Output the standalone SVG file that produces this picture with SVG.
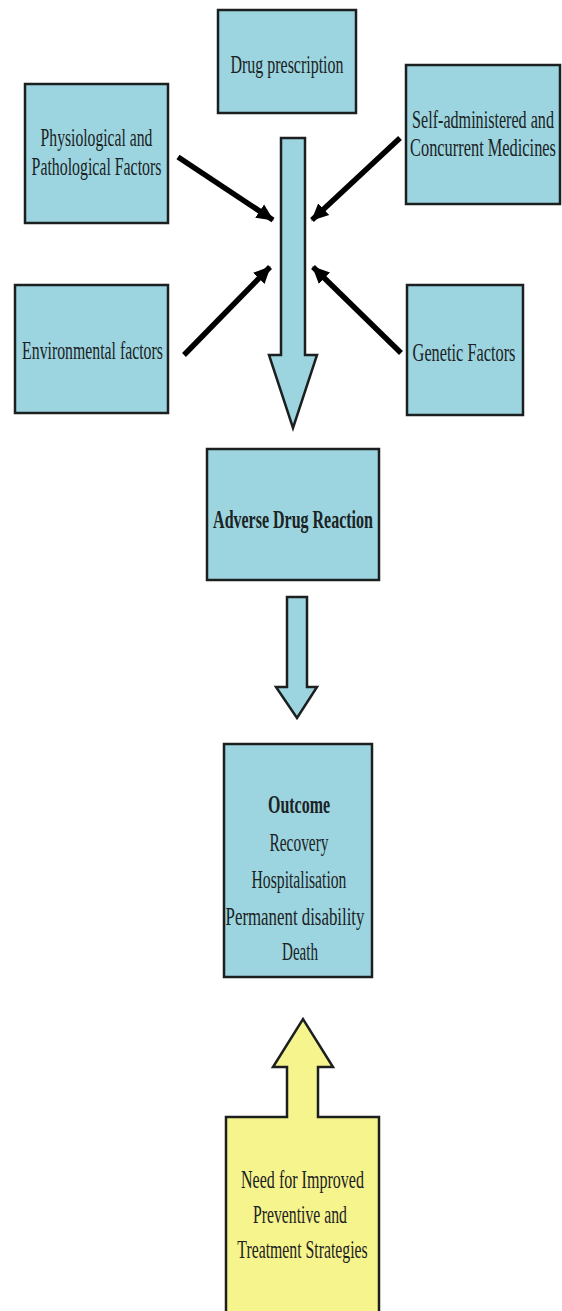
<svg xmlns="http://www.w3.org/2000/svg" width="562" height="1311" viewBox="0 0 562 1311">
<defs>
<style>
.box{fill:#9cd5df;stroke:#1c1f20;stroke-width:2.5}
.yel{fill:#f6f48c;stroke:#1c1f20;stroke-width:2.5}
.blk{fill:#9cd5df;stroke:#1c1f20;stroke-width:2.5;stroke-linejoin:miter}
.t{font-family:"Liberation Serif","Times New Roman",serif;font-size:26px;fill:#1b2224;text-anchor:middle}
.o{font-size:25px}
.b{font-weight:bold}
.ln{stroke:#000;stroke-width:5.5;fill:none}
</style>
<marker id="ah" markerUnits="userSpaceOnUse" markerWidth="18" markerHeight="18" refX="16" refY="9" orient="auto" viewBox="0 0 18 18">
<path d="M0,1 L17,9 L0,17 Z" fill="#000"/>
</marker>
</defs>
<rect width="562" height="1311" fill="#ffffff"/>

<g id="connectors">
<line class="ln" x1="178" y1="157" x2="273" y2="220" marker-end="url(#ah)"/>
<line class="ln" x1="400" y1="138" x2="312" y2="220" marker-end="url(#ah)"/>
<line class="ln" x1="184" y1="355" x2="270" y2="267" marker-end="url(#ah)"/>
<line class="ln" x1="401" y1="353" x2="313" y2="267" marker-end="url(#ah)"/>
<path class="blk" d="M281,138 L305,138 L305,355 L317,355 L293,428 L269,355 L281,355 Z"/>
<path class="blk" d="M287,597 L307,597 L307,687 L317,687 L297,718 L276,687 L287,687 Z"/>
</g>

<g id="drug-prescription">
<rect class="box" x="218" y="10" width="138" height="103"/>
<text class="t" transform="translate(287,73) scale(0.614,1)">Drug prescription</text>
</g>

<g id="physiological">
<rect class="box" x="25" y="84" width="143" height="139"/>
<text class="t" transform="translate(96.5,146) scale(0.603,1)">Physiological and</text>
<text class="t" transform="translate(96.5,175) scale(0.61,1)">Pathological Factors</text>
</g>

<g id="self-administered">
<rect class="box" x="406" y="65" width="154" height="139"/>
<text class="t" transform="translate(483,128) scale(0.62,1)">Self-administered and</text>
<text class="t" transform="translate(483,156) scale(0.63,1)">Concurrent Medicines</text>
</g>

<g id="environmental">
<rect class="box" x="15" y="285" width="153" height="128"/>
<text class="t" transform="translate(92.5,359) scale(0.608,1)">Environmental factors</text>
</g>

<g id="genetic">
<rect class="box" x="407" y="285" width="116" height="130"/>
<text class="t" transform="translate(464,361) scale(0.628,1)">Genetic Factors</text>
</g>

<g id="adverse-drug-reaction">
<rect class="box" x="207" y="449" width="172" height="131"/>
<text class="t b" transform="translate(293,528) scale(0.615,1)">Adverse Drug Reaction</text>
</g>

<g id="outcome">
<rect class="box" x="224" y="744" width="148" height="233"/>
<text class="t o b" transform="translate(299,813) scale(0.638,1)">Outcome</text>
<text class="t o" transform="translate(299,851) scale(0.616,1)">Recovery</text>
<text class="t o" transform="translate(299,888) scale(0.627,1)">Hospitalisation</text>
<text class="t o" transform="translate(295,925) scale(0.674,1)">Permanent disability</text>
<text class="t o" transform="translate(300,960) scale(0.603,1)">Death</text>
</g>

<g id="improved-strategies">
<path class="yel" d="M226,1117 L287,1117 L287,1067 L273,1067 L303,1019 L333,1067 L318,1067 L318,1117 L379,1117 L379,1316 L226,1316 Z"/>
<text class="t o" transform="translate(302.5,1188) scale(0.642,1)">Need for Improved</text>
<text class="t o" transform="translate(300,1223) scale(0.63,1)">Preventive and</text>
<text class="t o" transform="translate(302.5,1258) scale(0.631,1)">Treatment Strategies</text>
</g>
</svg>
